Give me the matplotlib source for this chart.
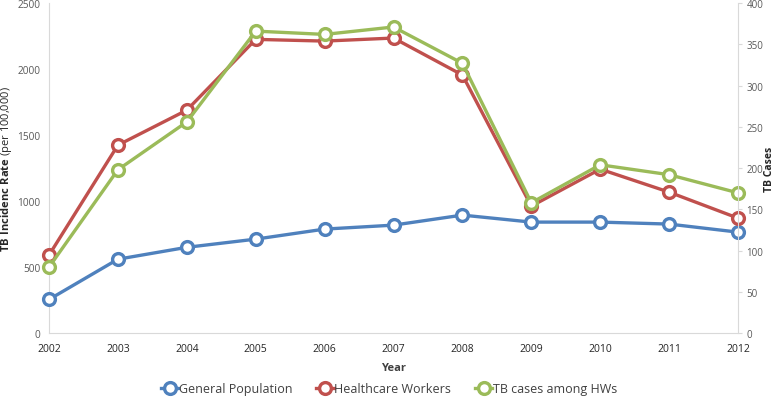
import matplotlib
matplotlib.use("Agg")
from matplotlib import pyplot as plt

years = [2002, 2003, 2004, 2005, 2006, 2007, 2008, 2009, 2010, 2011, 2012]
general_pop = [255, 560, 650, 712, 788, 818, 894, 841, 841, 826, 765]
health_workers = [591, 1424, 1689, 2225, 2212, 2235, 1955, 962, 1242, 1068, 871]
tb_cases_hw = [80, 198, 256, 366, 362, 371, 327, 158, 204, 192, 170]

plt.rcParams['font.family'] = ['Open Sans', 'DejaVu Sans']
plt.rcParams['mathtext.fontset'] = 'custom'
plt.rcParams['mathtext.rm'] = 'Open Sans'
plt.rcParams['mathtext.bf'] = 'Open Sans:bold'

blue = "#4F81BD"
red = "#C0504D"
green = "#9BBB59"
axis_col = "#D9D9D9"
tick_col = "#595959"

fig = plt.figure(figsize=(7.78, 4.06), dpi=100)
ax = fig.add_axes([0.063, 0.177, 0.8856, 0.813])
ax2 = ax.twinx()

style = dict(linewidth=2.4, marker="o", markersize=8.5, markerfacecolor="white",
             markeredgewidth=2.4, clip_on=False)
l1, = ax.plot(years, general_pop, color=blue, label="General Population", zorder=3, **style)
l2, = ax.plot(years, health_workers, color=red, label="Healthcare Workers", zorder=3, **style)
l3, = ax2.plot(years, tb_cases_hw, color=green, label="TB cases among HWs", **style)

ax.set_xlim(2002, 2012)
ax.set_ylim(0, 2500)
ax2.set_ylim(0, 400)
ax.set_xticks(years)
ax.set_yticks(range(0, 2501, 500))
ax2.set_yticks(range(0, 401, 50))

for s in ["top", "right"]:
    ax.spines[s].set_visible(False)
for s in ["top", "left", "bottom"]:
    ax2.spines[s].set_visible(False)
ax.spines["left"].set_color(axis_col)
ax.spines["bottom"].set_color(axis_col)
ax2.spines["right"].set_color(axis_col)

ax.tick_params(axis="y", length=0, labelsize=7.3, labelcolor=tick_col, pad=6)
ax.tick_params(axis="x", length=0, labelsize=7.5, labelcolor="#262626", pad=7)
ax2.tick_params(axis="y", length=3, color=axis_col, labelsize=7, labelcolor=tick_col, pad=3)

ax.set_xlabel("Year", fontsize=8, fontweight="bold", color="#404040", labelpad=6)
ax.set_ylabel(r"$\bf{TB\ Incidenc\ Rate}$ (per 100,000)", fontsize=8, color="#262626")
ax2.set_ylabel("TB Cases", fontsize=7.5, fontweight="bold", color="#262626")
ax.yaxis.set_label_coords(-0.0508, 0.5)
ax2.yaxis.set_label_coords(1.0377, 0.5)

fig.legend(handles=[l1, l2, l3], loc="center", bbox_to_anchor=(0.5, 0.04), ncol=3,
           frameon=False, fontsize=9, handlelength=1.4, handletextpad=0.05,
           columnspacing=1.9, labelcolor="#404040")

plt.savefig("out.png", dpi=100)
